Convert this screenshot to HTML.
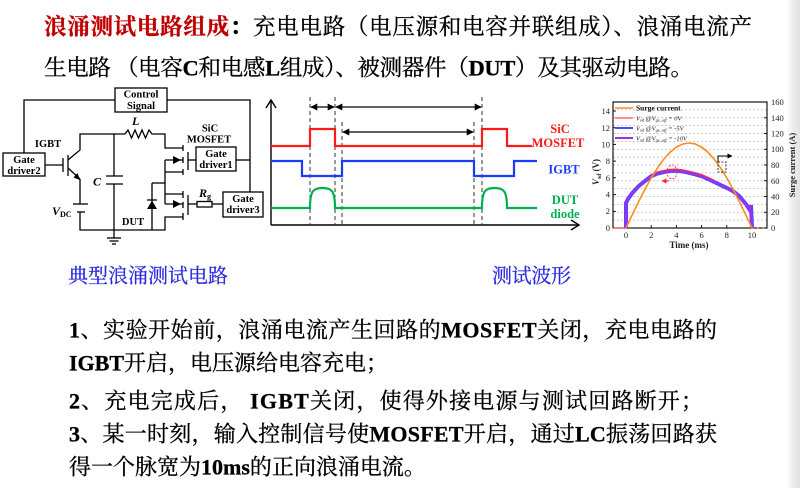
<!DOCTYPE html>
<html><head><meta charset="utf-8"><style>
html,body{margin:0;padding:0;background:#fff;}
body{width:800px;height:488px;overflow:hidden;position:relative;}
svg{position:absolute;left:0;top:0;}
.cj{font-family:"Liberation Serif","Noto Serif CJK SC",serif;}
.tm{font-family:"Liberation Serif",serif;}
</style></head><body>
<svg width="800" height="488" viewBox="0 0 800 488" xmlns="http://www.w3.org/2000/svg">
<defs>
<linearGradient id="edge" x1="0" x2="1" y1="0" y2="0">
<stop offset="0" stop-color="#ffffff"/><stop offset="0.5" stop-color="#ececec"/><stop offset="1" stop-color="#e2e2e2"/>
</linearGradient>
<marker id="ah" viewBox="0 0 10 10" refX="9" refY="5" markerWidth="7" markerHeight="7" orient="auto-start-reverse" markerUnits="userSpaceOnUse">
<path d="M0,0 L10,5 L0,10 z" fill="#000"/>
</marker>
<marker id="ahr" viewBox="0 0 10 10" refX="9" refY="5" markerWidth="5" markerHeight="5" orient="auto" markerUnits="userSpaceOnUse">
<path d="M0,0 L10,5 L0,10 z" fill="#ff2020"/>
</marker>
<marker id="ahk" viewBox="0 0 10 10" refX="9" refY="5" markerWidth="5" markerHeight="5" orient="auto" markerUnits="userSpaceOnUse">
<path d="M0,0 L10,5 L0,10 z" fill="#000"/>
</marker>
</defs>
<rect x="0" y="0" width="800" height="488" fill="#fff"/>
<rect x="786" y="0" width="14" height="488" fill="url(#edge)"/>

<!-- Title -->
<g stroke="#000" stroke-width="0.3">
<text class="cj" x="44" y="34.5" font-size="22.5" textLength="708" lengthAdjust="spacing"><tspan fill="#c00000" stroke="#c00000" font-weight="bold">浪涌测试电路组成</tspan><tspan font-weight="bold">：</tspan>充电电路（电压源和电容并联组成）、浪涌电流产</text>
<text class="cj" x="44" y="75.5" font-size="22.5" textLength="649" lengthAdjust="spacing">生电路 （电容<tspan font-weight="bold">C</tspan>和电感<tspan font-weight="bold">L</tspan>组成）、被测器件（<tspan font-weight="bold">DUT</tspan>）及其驱动电路。</text>
</g>

<!-- Circuit -->
<g stroke="#000" stroke-width="1.3" fill="none">
<polyline points="24,153 24,100 115,100"/>
<rect x="115" y="88" width="52" height="24"/>
<polyline points="167,100 250,100 250,192"/>
<line x1="236" y1="160" x2="250" y2="160"/>
<rect x="3" y="153" width="42" height="23"/>
<line x1="45" y1="165" x2="63" y2="165"/>
<line x1="63" y1="158" x2="63" y2="172"/>
<line x1="68" y1="155" x2="68" y2="176"/>
<polyline points="68,160 80,150 80,134 125,134"/>
<polyline points="125,134 128,130 131.5,138 135,130 138.5,138 142,130 145.5,138 149,130 152,134 165,134 165,148 183,148"/>
<line x1="68" y1="168" x2="80" y2="179"/>
<polyline points="80,179 80,204"/>
<line x1="73" y1="204" x2="88" y2="204"/>
<line x1="77" y1="212" x2="85" y2="212"/>
<polyline points="80,212 80,230 165,230 165,217 183,217"/>
<line x1="114" y1="134" x2="114" y2="176"/>
<line x1="106" y1="176" x2="123" y2="176"/>
<line x1="106" y1="184" x2="123" y2="184"/>
<line x1="114" y1="184" x2="114" y2="238"/>
<line x1="107" y1="238" x2="121" y2="238"/>
<line x1="109.5" y1="241" x2="118.5" y2="241"/>
<line x1="112" y1="244" x2="116" y2="244"/>
<line x1="165" y1="160" x2="183" y2="160"/>
<line x1="165" y1="172" x2="183" y2="172"/>
<line x1="165" y1="160" x2="165" y2="204"/>
<line x1="183" y1="145" x2="183" y2="151"/>
<line x1="183" y1="157" x2="183" y2="163"/>
<line x1="183" y1="169" x2="183" y2="175"/>
<line x1="188" y1="152" x2="188" y2="170"/>
<line x1="188" y1="160" x2="196" y2="160"/>
<rect x="196" y="147" width="40" height="24"/>
<line x1="152" y1="183" x2="165" y2="183"/>
<line x1="152" y1="183" x2="152" y2="230"/>
<line x1="147" y1="200" x2="157" y2="200"/>
<line x1="165" y1="194" x2="183" y2="194"/>
<line x1="165" y1="204" x2="183" y2="204"/>
<line x1="183" y1="191" x2="183" y2="198"/>
<line x1="183" y1="202" x2="183" y2="208"/>
<line x1="183" y1="213" x2="183" y2="220"/>
<line x1="188" y1="195" x2="188" y2="215"/>
<line x1="188" y1="204" x2="197" y2="204"/>
<rect x="197" y="201.5" width="15" height="5.5"/>
<line x1="212" y1="204" x2="223" y2="204"/>
<rect x="223" y="192" width="40" height="25"/>
</g>
<path d="M80,180 L73.5,177.5 L77.5,173 z" fill="#000"/>
<path d="M173,156 L181,160 L173,164 z" fill="#000"/>
<path d="M173,200 L181,204 L173,208 z" fill="#000"/>
<path d="M147,209 L157,209 L152,200.5 z" fill="#000"/>
<g class="tm" font-weight="bold" font-size="10.5" text-anchor="middle" fill="#000">
<text x="141" y="97.5">Control</text>
<text x="141" y="109">Signal</text>
<text x="24" y="163">Gate</text>
<text x="24" y="174">driver2</text>
<text x="216" y="157">Gate</text>
<text x="216" y="168">driver1</text>
<text x="243" y="202">Gate</text>
<text x="243" y="213">driver3</text>
<text x="48" y="147">IGBT</text>
<text x="210" y="131.5">SiC</text>
<text x="209" y="142.5">MOSFET</text>
<text x="133" y="225">DUT</text>
</g>
<g class="tm" font-weight="bold" font-style="italic" font-size="12" fill="#000">
<text x="132" y="125">L</text>
<text x="93" y="185.5">C</text>
<text x="52" y="215">V<tspan font-size="8" font-style="normal" dy="2">DC</tspan></text>
<text x="199" y="197">R<tspan font-size="8" font-style="normal" dy="2">g</tspan></text>
</g>

<!-- Waveforms -->
<g stroke="#000" stroke-width="1.4" fill="none">
<polyline points="271,225 271,101"/>
<polyline points="266,108 271,100 276,108"/>
<polyline points="271,225 578,225"/>
<polyline points="571,220 579,225 571,230"/>
</g>
<g stroke="#333" stroke-width="1" stroke-dasharray="4,3" fill="none">
<line x1="310" y1="97" x2="310" y2="225"/>
<line x1="335" y1="97" x2="335" y2="225"/>
<line x1="342" y1="122" x2="342" y2="225"/>
<line x1="474" y1="122" x2="474" y2="225"/>
<line x1="482" y1="97" x2="482" y2="225"/>
</g>
<g stroke="#000" stroke-width="1.2">
<line x1="311" y1="107" x2="334" y2="107" marker-start="url(#ah)" marker-end="url(#ah)"/>
<line x1="336" y1="107" x2="481" y2="107" marker-start="url(#ah)" marker-end="url(#ah)"/>
<line x1="343" y1="132" x2="473" y2="132" marker-start="url(#ah)" marker-end="url(#ah)"/>
</g>
<polyline points="271,146 310,146 310,129 335,129 335,146 482,146 482,129 507,129 507,146 532,146" fill="none" stroke="#ff1a1a" stroke-width="2.2"/>
<polyline points="271,161 302,161 302,176 342,176 342,161 474,161 474,176 514,176 514,161 537,161" fill="none" stroke="#1a3cff" stroke-width="2.2"/>
<path d="M271,208 H310 C310,191 313,188 322.5,188 C332,188 335,191 335,208 H482 C482,191 485,188 494.5,188 C504,188 507,191 507,208 H537" fill="none" stroke="#00b050" stroke-width="2.2"/>
<g class="tm" font-weight="bold" font-size="12.5" text-anchor="middle">
<text x="560" y="133" fill="#ff1a1a">SiC</text>
<text x="558" y="147" fill="#ff1a1a">MOSFET</text>
<text x="564" y="173.5" fill="#1a3cff">IGBT</text>
<text x="565" y="204" fill="#00b050">DUT</text>
<text x="565" y="218" fill="#00b050">diode</text>
</g>

<!-- Chart -->
<g stroke="#bbb" stroke-width="0.7" stroke-dasharray="2,2">
<line x1="613" y1="220.1" x2="767" y2="220.1"/>
<line x1="613" y1="212.25" x2="767" y2="212.25"/>
<line x1="613" y1="204.4" x2="767" y2="204.4"/>
<line x1="613" y1="196.5" x2="767" y2="196.5"/>
<line x1="613" y1="188.6" x2="767" y2="188.6"/>
<line x1="613" y1="180.75" x2="767" y2="180.75"/>
<line x1="613" y1="172.9" x2="767" y2="172.9"/>
<line x1="613" y1="165" x2="767" y2="165"/>
<line x1="613" y1="157.1" x2="767" y2="157.1"/>
<line x1="613" y1="149.25" x2="767" y2="149.25"/>
<line x1="613" y1="141.4" x2="767" y2="141.4"/>
<line x1="613" y1="133.5" x2="767" y2="133.5"/>
<line x1="613" y1="125.6" x2="767" y2="125.6"/>
<line x1="613" y1="117.75" x2="767" y2="117.75"/>
<line x1="613" y1="109.9" x2="767" y2="109.9"/>
</g>
<rect x="613" y="102" width="154" height="126" fill="none" stroke="#000" stroke-width="1.1"/>
<g stroke="#000" stroke-width="0.9">
<line x1="613" y1="211.3" x2="616" y2="211.3"/><line x1="613" y1="194.6" x2="616" y2="194.6"/><line x1="613" y1="177.8" x2="616" y2="177.8"/><line x1="613" y1="161.1" x2="616" y2="161.1"/><line x1="613" y1="144.4" x2="616" y2="144.4"/><line x1="613" y1="127.7" x2="616" y2="127.7"/><line x1="613" y1="111" x2="616" y2="111"/>
<line x1="764" y1="212.25" x2="767" y2="212.25"/><line x1="764" y1="196.5" x2="767" y2="196.5"/><line x1="764" y1="180.75" x2="767" y2="180.75"/><line x1="764" y1="165" x2="767" y2="165"/><line x1="764" y1="149.25" x2="767" y2="149.25"/><line x1="764" y1="133.5" x2="767" y2="133.5"/><line x1="764" y1="117.75" x2="767" y2="117.75"/>
<line x1="626" y1="228" x2="626" y2="225"/><line x1="651.2" y1="228" x2="651.2" y2="225"/><line x1="676.4" y1="228" x2="676.4" y2="225"/><line x1="701.6" y1="228" x2="701.6" y2="225"/><line x1="726.8" y1="228" x2="726.8" y2="225"/><line x1="752" y1="228" x2="752" y2="225"/>
</g>
<g class="tm" font-size="8.5" fill="#222" text-anchor="end">
<text x="610" y="231">0</text><text x="610" y="214">2</text><text x="610" y="197.5">4</text><text x="610" y="181">6</text><text x="610" y="164">8</text><text x="610" y="147.5">10</text><text x="610" y="131">12</text><text x="610" y="114">14</text>
</g>
<g class="tm" font-size="8.5" fill="#222" text-anchor="start">
<text x="771" y="231">0</text><text x="771" y="215">20</text><text x="771" y="199.5">40</text><text x="771" y="184">60</text><text x="771" y="168">80</text><text x="771" y="152">100</text><text x="771" y="136.5">120</text><text x="771" y="121">140</text><text x="771" y="105">160</text>
</g>
<g class="tm" font-size="8.5" fill="#222" text-anchor="middle">
<text x="626" y="238">0</text><text x="651.2" y="238">2</text><text x="676.4" y="238">4</text><text x="701.6" y="238">6</text><text x="726.8" y="238">8</text><text x="752" y="238">10</text>
<text x="689" y="248" font-weight="bold" font-size="9">Time (ms)</text>
</g>
<text class="tm" font-size="8.5" font-weight="bold" fill="#222" text-anchor="middle" transform="translate(795,165) rotate(-90)">Surge current (A)</text>
<text class="tm" font-size="9" font-weight="bold" fill="#222" text-anchor="middle" transform="translate(599,172) rotate(-90)"><tspan font-style="italic">V</tspan><tspan font-size="6" font-style="italic" dy="2">sd</tspan><tspan dy="-2"> (V)</tspan></text>
<!-- curves -->
<polyline points="613,228 626,228 626,202.9" fill="none" stroke="#ff2020" stroke-width="1"/>
<path d="M626,228 L626,203 L628,199 L632.3,193 L638.6,186.2 L645,181 L651.2,176.2 L657.5,173.5 L663.8,172 L670,171 L676.4,170.7 L683,171.5 L689,172.8 L695,174.3 L701.6,176.2 L708,179 L714.2,182 L720.5,185 L726.8,187.9 L733.1,191.2 L739.4,196.2 L745.7,203.8 L750.7,211.3 L751,205 L752,228" fill="none" stroke="#4a4aff" stroke-width="4"/>
<path d="M651.2,175.2 L657.5,172.3 L663.8,170.8 L670,169.8 L676.4,169.5 L683,170.3 L689,171.6 L695,173.1 L701.6,175 L708,177.8 L714.2,180.8" fill="none" stroke="#ff3030" stroke-width="2"/>
<path d="M626,228 L626,203 L628,199 L632.3,193 L638.6,186.2 L645,181 L651.2,176.2 L657.5,173.5 L663.8,172 L670,171 L676.4,170.7 L683,171.5 L689,172.8 L695,174.3 L701.6,176.2 L708,179 L714.2,182 L720.5,185 L726.8,187.9 L733.1,191.2 L739.4,196.2 L745.7,203.8 L750.7,211.3 L751,205 L752,228" fill="none" stroke="#9a30f0" stroke-width="2.4"/>
<line x1="752" y1="228" x2="767" y2="228" stroke="#ff2020" stroke-width="1" stroke-dasharray="2,3"/>
<polyline points="626,228 632.3,214.7 638.6,201.7 644.9,189.4 651.2,178 657.5,167.9 663.8,159.2 670.1,152.2 676.4,147.1 682.7,144 689,143 695.3,144 701.6,147.1 707.9,152.2 714.2,159.2 720.5,167.9 726.8,178 733.1,189.4 739.4,201.7 745.7,214.7 752,228" fill="none" stroke="#ff8c1a" stroke-width="1.6"/>
<!-- annotations -->
<ellipse cx="672" cy="172" rx="5" ry="7" fill="none" stroke="#ff2020" stroke-width="0.8" stroke-dasharray="2,1.5"/>
<line x1="669" y1="181" x2="662" y2="181" stroke="#ff2020" stroke-width="1" marker-end="url(#ahr)"/>
<rect x="718" y="162" width="8" height="10" fill="none" stroke="#000" stroke-width="0.8" stroke-dasharray="2,1.5"/>
<polyline points="718,162 718,156 732,156" fill="none" stroke="#000" stroke-width="1" marker-end="url(#ahk)"/>
<!-- legend -->
<line x1="615" y1="108" x2="633" y2="108" stroke="#ff8c1a" stroke-width="1.6"/>
<line x1="615" y1="118" x2="633" y2="118" stroke="#ff2020" stroke-width="1"/>
<line x1="615" y1="128" x2="633" y2="128" stroke="#4a4aff" stroke-width="2"/>
<line x1="615" y1="138" x2="633" y2="138" stroke="#9a30f0" stroke-width="2"/>
<g class="tm" fill="#111" font-size="6.5">
<text x="636" y="110.5" font-weight="bold" font-size="7.5">Surge current</text>
<text x="636" y="120.5" font-style="italic">V<tspan font-size="4.5" dy="1">sd</tspan><tspan dy="-1"> @V</tspan><tspan font-size="4.5" dy="1">gs_off</tspan><tspan dy="-1"> = 0V</tspan></text>
<text x="636" y="130.5" font-style="italic">V<tspan font-size="4.5" dy="1">sd</tspan><tspan dy="-1"> @V</tspan><tspan font-size="4.5" dy="1">gs_off</tspan><tspan dy="-1"> = -5V</tspan></text>
<text x="636" y="140.5" font-style="italic">V<tspan font-size="4.5" dy="1">sd</tspan><tspan dy="-1"> @V</tspan><tspan font-size="4.5" dy="1">gs_off</tspan><tspan dy="-1"> = -10V</tspan></text>
</g>

<!-- captions -->
<g stroke="#2a2ae0" stroke-width="0.25">
<text class="cj" x="68" y="282.5" font-size="20" fill="#2a2ae0" textLength="160" lengthAdjust="spacing">典型浪涌测试电路</text>
<text class="cj" x="492" y="282.5" font-size="20" fill="#2a2ae0" textLength="79" lengthAdjust="spacing">测试波形</text>
</g>

<!-- paragraph -->
<g class="cj" font-size="22" fill="#000" stroke="#000" stroke-width="0.3">
<text x="69" y="337.5" textLength="648" lengthAdjust="spacing"><tspan font-weight="bold">1</tspan>、实验开始前，浪涌电流产生回路的<tspan font-weight="bold">MOSFET</tspan>关闭，充电电路的</text>
<text x="69" y="370.5"><tspan font-weight="bold">IGBT</tspan>开启，电压源给电容充电；</text>
<text x="69" y="408.5" textLength="634" lengthAdjust="spacing"><tspan font-weight="bold">2</tspan>、充电完成后， <tspan font-weight="bold">IGBT</tspan>关闭，使得外接电源与测试回路断开；</text>
<text x="69" y="441.5" textLength="648" lengthAdjust="spacing"><tspan font-weight="bold">3</tspan>、某一时刻，输入控制信号使<tspan font-weight="bold">MOSFET</tspan>开启，通过<tspan font-weight="bold">LC</tspan>振荡回路获</text>
<text x="69" y="474.5">得一个脉宽为<tspan font-weight="bold">10ms</tspan>的正向浪涌电流。</text>
</g>
</svg>
</body></html>
